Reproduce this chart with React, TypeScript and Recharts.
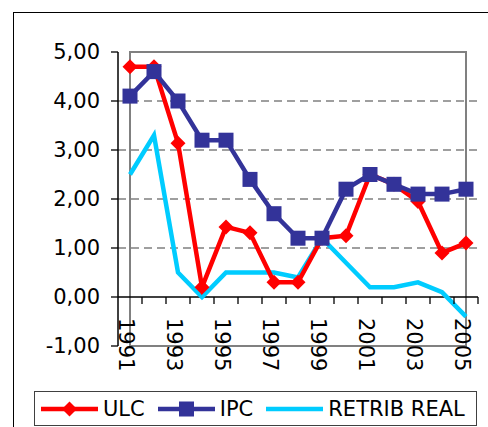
import { CartesianGrid, Legend, Line, LineChart, ReferenceArea, ReferenceLine, XAxis, YAxis } from "recharts";

const years = ["1991", "1992", "1993", "1994", "1995", "1996", "1997", "1998", "1999", "2000", "2001", "2002", "2003", "2004", "2005"];
const ulc = [4.7, 4.7, 3.14, 0.2, 1.43, 1.31, 0.3, 0.3, 1.2, 1.25, 2.5, 2.3, 1.95, 0.9, 1.1];
const ipc = [4.1, 4.6, 4.0, 3.2, 3.2, 2.4, 1.7, 1.2, 1.2, 2.2, 2.5, 2.3, 2.1, 2.1, 2.2];
const retrib = [2.5, 3.3, 0.5, 0.0, 0.5, 0.5, 0.5, 0.4, 1.2, 0.7, 0.2, 0.2, 0.3, 0.1, -0.4];
const yTicks = [-1, 0, 1, 2, 3, 4, 5];
const gridValues = [1, 2, 3, 4];
const legendOrder = ["ULC", "IPC", "RETRIB REAL"];

const data = years.map((year, i) => ({ year, ulc: ulc[i], ipc: ipc[i], retrib: retrib[i] }));

const RED = "#ff0000";
const BLUE = "#333399";
const CYAN = "#00ccff";
const FONT = "DejaVu Sans";

const fmt = (v: number) => v.toFixed(2).replace(".", ",");

function Diamond({ cx, cy, fill }: any) {
  return <path d={`M${cx},${cy - 7.5}L${cx + 7.5},${cy}L${cx},${cy + 7.5}L${cx - 7.5},${cy}Z`} fill={fill} />;
}

function Square({ cx, cy, fill }: any) {
  return <rect x={cx - 7.5} y={cy - 7.5} width={15} height={15} fill={fill} />;
}

// x axis sits on the zero line (Excel style), labels below it, ticks at band edges
function YearTick({ x, payload }: any) {
  const showLabel = Number(payload.value) % 2 === 1;
  return (
    <g>
      <line x1={x + 12} x2={x + 12} y1={297} y2={304} stroke="#000" strokeWidth={1.3} />
      {showLabel && (
        <text
          transform={`translate(${x - 11},318) rotate(90)`}
          textAnchor="start"
          fontSize={21}
          fontFamily={FONT}
          fill="#000"
        >
          {payload.value}
        </text>
      )}
    </g>
  );
}

function LegendBox({ payload }: any) {
  const items = [...(payload || [])].sort((a: any, b: any) => legendOrder.indexOf(a.value) - legendOrder.indexOf(b.value));
  return (
    <div
      style={{
        boxSizing: "border-box",
        width: 443,
        height: 35,
        border: "1px solid #404040",
        display: "flex",
        alignItems: "center",
        paddingLeft: 6,
        fontFamily: FONT,
        fontSize: 21,
        color: "#000",
        background: "#fff",
        whiteSpace: "nowrap",
      }}
    >
      {items.map((item: any) => (
        <div key={item.value} style={{ display: "flex", alignItems: "center", marginRight: 13, flexShrink: 0 }}>
          <svg width={57} height={20} style={{ marginRight: 5, flexShrink: 0 }}>
            <line x1={0} x2={57} y1={10} y2={10} stroke={item.color} strokeWidth={4.5} />
            {item.value === "ULC" && <Diamond cx={28.5} cy={10} fill={item.color} />}
            {item.value === "IPC" && <Square cx={28.5} cy={10} fill={item.color} />}
          </svg>
          <span style={{ lineHeight: "20px" }}>{item.value}</span>
        </div>
      ))}
    </div>
  );
}

export default function App() {
  return (
    <div style={{ position: "absolute", left: 0, top: 0, width: 488, height: 427, overflow: "hidden", background: "#fff" }}>
      <div
        style={{
          position: "absolute",
          left: 13,
          top: 12,
          width: 600,
          height: 600,
          borderLeft: "1.3px solid #000",
          borderTop: "1.3px solid #000",
        }}
      />
      <div style={{ position: "absolute", left: 0, top: 0 }}>
        <LineChart width={488} height={427} data={data} margin={{ top: 52, right: 10, left: 0, bottom: 51 }} style={{ fontFamily: FONT }}>
          <ReferenceArea y1={-1} y2={5} fill="none" stroke="#808080" strokeWidth={2} />
          <CartesianGrid vertical={false} horizontalValues={gridValues} stroke="#808080" strokeDasharray="8 5" strokeWidth={1.3} />
          <ReferenceLine y={0} stroke="#000" strokeWidth={1.5} />
          <XAxis
            dataKey="year"
            interval={0}
            padding={{ left: 12, right: 12 }}
            axisLine={false}
            tickLine={false}
            tick={<YearTick />}
            height={30}
          />
          <YAxis
            width={118}
            domain={[-1, 5]}
            ticks={yTicks}
            tickFormatter={fmt}
            axisLine={{ stroke: "#000", strokeWidth: 1.5 }}
            tickLine={{ stroke: "#000", strokeWidth: 1.3 }}
            tickSize={7}
            tickMargin={11}
            tick={{ fill: "#000", fontSize: 21, fontFamily: FONT }}
          />
          <Legend
            layout="horizontal"
            verticalAlign="middle"
            content={<LegendBox />}
            wrapperStyle={{ position: "absolute", left: 34, top: 391, width: 443, height: 35 }}
          />
          <Line dataKey="retrib" name="RETRIB REAL" stroke={CYAN} strokeWidth={4.5} dot={false} isAnimationActive={false} />
          <Line
            dataKey="ulc"
            name="ULC"
            stroke={RED}
            strokeWidth={4.5}
            dot={(p: any) => <Diamond key={`u${p.index}`} cx={p.cx} cy={p.cy} fill={RED} />}
            isAnimationActive={false}
          />
          <Line
            dataKey="ipc"
            name="IPC"
            stroke={BLUE}
            strokeWidth={4.5}
            dot={(p: any) => <Square key={`i${p.index}`} cx={p.cx} cy={p.cy} fill={BLUE} />}
            isAnimationActive={false}
          />
        </LineChart>
      </div>
    </div>
  );
}
